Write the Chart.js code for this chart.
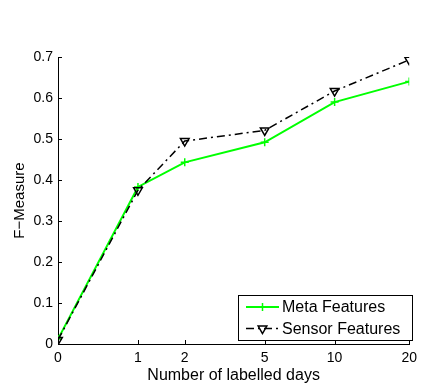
<!DOCTYPE html>
<html>
<head>
<meta charset="utf-8">
<script src="https://cdn.jsdelivr.net/npm/chart.js@4.4.0/dist/chart.umd.min.js"></script>
<style>
  body { margin: 0; background: #fff; }
  canvas { display: block; }
</style>
</head>
<body>
<canvas id="fmChart" width="423" height="385"></canvas>
<script>
// data
const days = [0, 1, 2, 5, 10, 20];
const metaF = [0.012, 0.383, 0.443, 0.492, 0.590, 0.640];
const sensorF = [0.010, 0.375, 0.495, 0.521, 0.617, 0.693];
const yTicks = [0, 0.1, 0.2, 0.3, 0.4, 0.5, 0.6, 0.7];
const seriesNames = ['Meta Features', 'Sensor Features'];

const fontFam = 'Arial, "Liberation Sans", Helvetica, sans-serif';

// x axis is log spaced, value = days + 1
function toPoints(vals) {
  return days.map(function(d, i) { return { x: d + 1, y: vals[i] }; });
}

// matlab style ticks pointing inwards
const inwardTicks = {
  id: 'inwardTicks',
  afterDatasetsDraw(chart) {
    const ctx = chart.ctx;
    const xs = chart.scales.x, ys = chart.scales.y;
    const area = chart.chartArea;
    ctx.save();
    ctx.strokeStyle = '#000';
    ctx.lineWidth = 1;
    ctx.beginPath();
    days.forEach(function(d) {
      const px = Math.round(xs.getPixelForValue(d + 1)) + 0.5;
      ctx.moveTo(px, area.bottom);
      ctx.lineTo(px, area.bottom - 4);
    });
    yTicks.forEach(function(v) {
      const py = Math.round(ys.getPixelForValue(v)) + 0.5;
      ctx.moveTo(area.left, py);
      ctx.lineTo(area.left + 4, py);
    });
    ctx.stroke();
    ctx.restore();
  }
};

// legend box inside the plot, bottom right
const boxLegend = {
  id: 'boxLegend',
  afterDraw(chart) {
    const ctx = chart.ctx;
    const x0 = 238.5, y0 = 295.5, w = 174, h = 45;
    ctx.save();
    ctx.fillStyle = '#fff';
    ctx.fillRect(x0, y0, w, h);
    ctx.strokeStyle = '#000';
    ctx.lineWidth = 1;
    ctx.strokeRect(x0, y0, w, h);

    const rows = [y0 + 11.5, y0 + 33];
    chart.data.datasets.forEach(function(ds, i) {
      const y = rows[i];
      ctx.strokeStyle = ds.borderColor;
      ctx.lineWidth = ds.borderWidth;
      ctx.setLineDash(ds.borderDash || []);
      ctx.beginPath();
      ctx.moveTo(246, y);
      ctx.lineTo(279, y);
      ctx.stroke();
      ctx.setLineDash([]);
      ctx.fillStyle = 'rgba(0,0,0,0)';
      ctx.lineWidth = ds.pointBorderWidth;
      Chart.helpers.drawPoint(ctx, {
        pointStyle: ds.pointStyle,
        radius: ds.pointRadius,
        rotation: ds.pointRotation || 0,
        borderWidth: ds.pointBorderWidth
      }, 262.5, y);
      ctx.fillStyle = '#000';
      ctx.font = '16px ' + fontFam;
      ctx.textBaseline = 'middle';
      ctx.textAlign = 'left';
      ctx.fillText(ds.label, 282, y + 1);
    });
    ctx.restore();
  }
};

var ctx = document.getElementById('fmChart').getContext('2d');
var chart = new Chart(ctx, {
  type: 'line',
  data: {
    datasets: [{
      label: seriesNames[0],
      data: toPoints(metaF),
      borderColor: '#00ff00',
      backgroundColor: '#00ff00',
      borderWidth: 2,
      pointStyle: 'cross',
      pointRadius: 4,
      pointBorderColor: '#00ff00',
      pointBorderWidth: 1.5,
      order: 2
    }, {
      label: seriesNames[1],
      data: toPoints(sensorF),
      borderColor: '#000',
      backgroundColor: 'rgba(0,0,0,0)',
      borderWidth: 1.5,
      borderDash: [8, 4, 2, 4],
      pointStyle: 'triangle',
      pointRotation: 180,
      pointRadius: 5,
      pointBorderColor: '#000',
      pointBackgroundColor: 'rgba(0,0,0,0)',
      pointBorderWidth: 1.5,
      order: 1
    }]
  },
  options: {
    responsive: false,
    animation: false,
    layout: { padding: { top: 57, right: 7, left: 0, bottom: 0 } },
    plugins: {
      legend: { display: false },
      tooltip: { enabled: false }
    },
    scales: {
      x: {
        type: 'logarithmic',
        min: 1,
        max: 21,
        afterBuildTicks: function(scale) {
          scale.ticks = days.map(function(d) { return { value: d + 1 }; });
        },
        afterFit: function(scale) { scale.height = 41; },
        grid: { display: true, drawOnChartArea: false, drawTicks: false },
        border: { color: '#000', width: 1 },
        ticks: {
          color: '#000',
          font: { family: fontFam, size: 14 },
          padding: 6,
          maxRotation: 0,
          autoSkip: false,
          callback: function(v) { return String(Math.round(v - 1)); }
        },
        title: {
          display: true,
          text: 'Number of labelled days',
          color: '#000',
          font: { family: fontFam, size: 16 },
          padding: { top: 0, bottom: 0 }
        }
      },
      y: {
        min: 0,
        max: 0.7,
        afterBuildTicks: function(scale) {
          scale.ticks = yTicks.map(function(v) { return { value: v }; });
        },
        afterFit: function(scale) { scale.width = 58; },
        grid: { display: true, drawOnChartArea: false, drawTicks: false },
        border: { color: '#000', width: 1 },
        ticks: {
          color: '#000',
          font: { family: fontFam, size: 14 },
          padding: 5,
          callback: function(v) { return v === 0 ? '0' : v.toFixed(1); }
        },
        title: {
          display: true,
          text: 'F\u2212Measure',
          color: '#000',
          font: { family: fontFam, size: 15 },
          padding: { top: 11, bottom: 0 }
        }
      }
    }
  },
  plugins: [inwardTicks, boxLegend]
});
</script>
</body>
</html>
